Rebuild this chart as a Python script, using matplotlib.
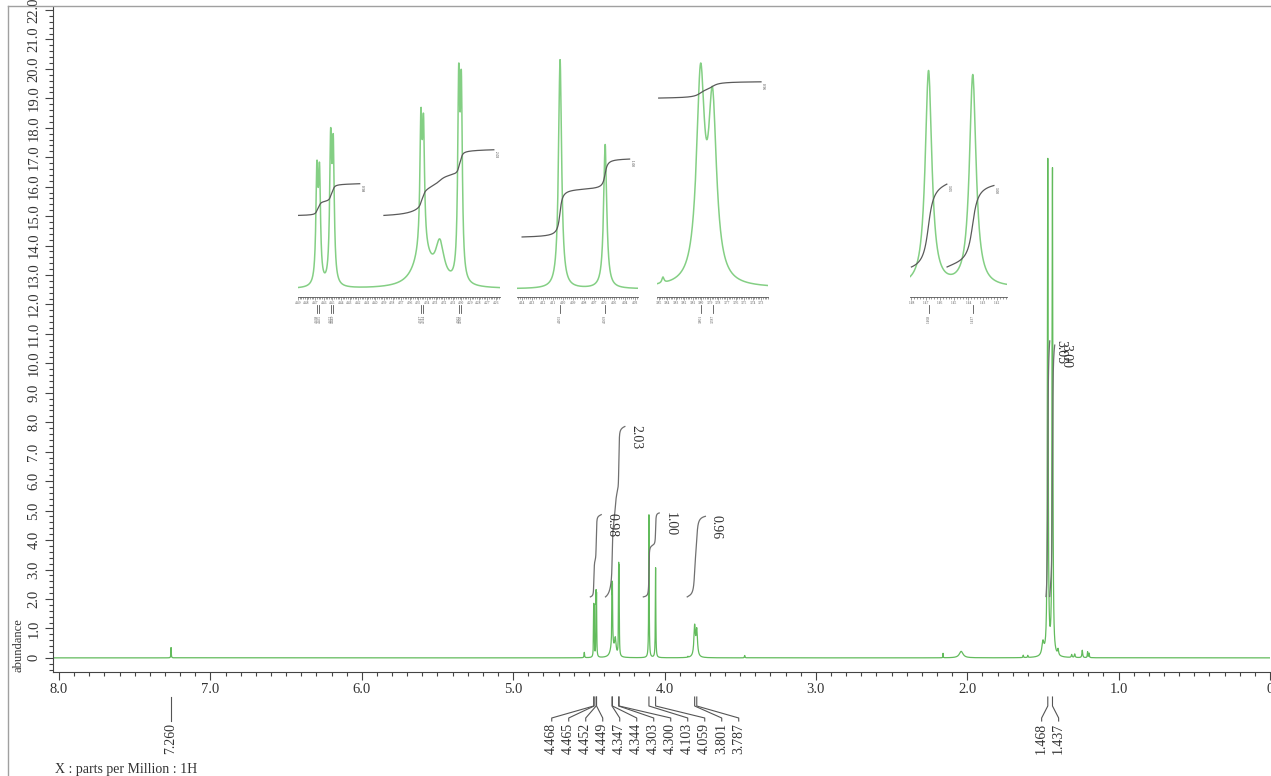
import numpy as np
import matplotlib.pyplot as plt
from matplotlib.lines import Line2D
from matplotlib.ticker import MultipleLocator, FuncFormatter

plt.rcParams['font.family'] = ['Liberation Serif', 'DejaVu Serif']

# peak list: shift (ppm), height (abundance), half width (ppm)
peak_ppm = [7.260, 4.530, 4.468, 4.465, 4.452, 4.449, 4.345, 4.347, 4.344, 4.325,
            4.303, 4.300, 4.103, 4.059, 3.845, 3.801, 3.787, 3.470, 2.160, 2.040,
            1.630, 1.600, 1.500, 1.468, 1.437, 1.400, 1.310, 1.290, 1.240, 1.205, 1.195]
peak_height = [0.35, 0.18, 1.55, 1.50, 1.95, 1.85, 0.50, 1.78, 1.65, 0.55,
               2.70, 2.60, 4.85, 3.05, 0.03, 1.02, 0.88, 0.08, 0.15, 0.22,
               0.08, 0.07, 0.45, 16.8, 16.5, 0.20, 0.10, 0.12, 0.25, 0.20, 0.15]
peak_hwhm = [0.0015, 0.002, 0.0014, 0.0014, 0.0014, 0.0014, 0.012, 0.0014, 0.0014, 0.006,
             0.0014, 0.0014, 0.0018, 0.0018, 0.0015, 0.0057, 0.0057, 0.002, 0.0012, 0.015,
             0.002, 0.002, 0.008, 0.0028, 0.0028, 0.004, 0.003, 0.003, 0.003, 0.002, 0.002]

# picked peaks (labels under the axis)
pick_ppm = [7.260, 4.468, 4.465, 4.452, 4.449, 4.347, 4.344, 4.303, 4.300,
            4.103, 4.059, 3.801, 3.787, 1.468, 1.437]
pick_group = [0, 1, 1, 1, 1, 1, 1, 1, 1, 1, 1, 1, 1, 2, 2]

# integrals
int_start = [4.490, 4.390, 4.140, 3.850, 1.480, 1.455]
int_end = [4.418, 4.262, 4.035, 3.730, 1.455, 1.422]
int_value = [0.98, 2.03, 1.00, 0.96, 3.05, 3.00]
int_inset = [0, 0, 1, 2, 3, 3]

# expansions shown above the spectrum
inset_left = [4.490, 4.145, 3.852, 1.481]
inset_right = [4.255, 4.027, 3.722, 1.413]
inset_ylo = [-0.115, -0.17, -0.046, -0.70]
inset_yhi = [3.405, 5.02, 1.204, 18.4]

W, H = 1271, 776
green = '#62bb5c'
lightgreen = '#84cf84'
ink = '#333333'

# spectrum from the peak list (lorentzian lines)
ppm = np.arange(-0.02, 8.04, 0.0002)
spec = np.zeros_like(ppm)
for p, h, w in zip(peak_ppm, peak_height, peak_hwhm):
    spec += h / (1 + ((ppm - p) / w) ** 2)


def fx(px):
    return px / W


def fy(py):
    return 1 - py / H


def fmt(v, pos):
    return '0' if abs(v) < 1e-9 else '%.1f' % v


def integral(i):
    m = (ppm <= int_start[i]) & (ppm >= int_end[i])
    xs = ppm[m][::-1]
    c = np.cumsum(spec[m][::-1])
    return xs, c / c[-1]


fig = plt.figure(figsize=(W / 100, H / 100), dpi=100)

# frame lines of the page
fig.add_artist(Line2D([fx(8), fx(8)], [0, fy(6)], transform=fig.transFigure, color='#a0a0a0', lw=1))
fig.add_artist(Line2D([fx(8), 1], [fy(6), fy(6)], transform=fig.transFigure, color='#a0a0a0', lw=1))

ax = fig.add_axes([fx(53), fy(672), fx(1270) - fx(53), fy(7) - fy(672)])
ax.patch.set_alpha(0)
ax.plot(ppm, spec, color=green, lw=0.9)
ax.set_xlim(8.04, 0)
ax.set_ylim(-0.48, 22.1)
for s in ['top', 'right']:
    ax.spines[s].set_visible(False)
for s in ['left', 'bottom']:
    ax.spines[s].set_color('#444444')
    ax.spines[s].set_linewidth(0.8)
ax.xaxis.set_major_locator(MultipleLocator(1))
ax.xaxis.set_minor_locator(MultipleLocator(0.1))
ax.yaxis.set_major_locator(MultipleLocator(1))
ax.yaxis.set_minor_locator(MultipleLocator(0.2))
ax.xaxis.set_major_formatter(FuncFormatter(fmt))
ax.yaxis.set_major_formatter(FuncFormatter(fmt))
ax.tick_params(which='both', direction='out', colors='#444444', labelcolor=ink, width=0.8)
ax.tick_params(which='major', length=6, labelsize=10.5)
ax.tick_params(which='minor', length=3)
ax.tick_params(axis='x', pad=2)
ax.tick_params(axis='y', labelrotation=90, pad=3)
for t in ax.get_yticklabels():
    t.set_va('center')

# integral curves on the main spectrum
for i in range(len(int_value)):
    xs, c = integral(i)
    ys = 2.07 + int_value[i] * 2.85 * c
    ax.plot(xs, ys, color='#707070', lw=0.9)
    ax.annotate('%.2f' % int_value[i], (xs[-1], ys[-1]), xytext=(3, 1), textcoords='offset points',
                rotation=-90, ha='left', va='top', fontsize=10, color=ink)

# peak labels under the axis
for g in sorted(set(pick_group)):
    pp = [p for p, k in zip(pick_ppm, pick_group) if k == g]
    px = [ax.transData.transform((p, 0))[0] for p in pp]
    mid = (min(px) + max(px)) / 2
    n = len(px)
    lx = [mid + (j - (n - 1) / 2) * 17 for j in range(n)]
    for p, x0, x1 in zip(pp, px, lx):
        fig.add_artist(Line2D([fx(x0), fx(x0), fx(x1), fx(x1)], [fy(697), fy(706), fy(718), fy(721)],
                              transform=fig.transFigure, color='#555555', lw=0.8))
        fig.text(fx(x1), fy(723), '%.3f' % p, rotation=90, ha='center', va='top', fontsize=10, color=ink)

# expansions
inset_px = [(298, 500), (517, 638), (657, 768), (910, 1007)]
base_frac = [0.333, 0.245, 0.812, 0.122]
step_frac = [0.132, 0.318, 0.069, 0.111]
for k in range(len(inset_left)):
    l, r = inset_px[k]
    iax = fig.add_axes([fx(l), fy(297), fx(r) - fx(l), fy(52) - fy(297)])
    iax.patch.set_alpha(0)
    m = (ppm <= inset_left[k] + 0.01) & (ppm >= inset_right[k] - 0.01)
    iax.plot(ppm[m], spec[m], color=lightgreen, lw=1.1)
    iax.set_xlim(inset_left[k], inset_right[k])
    iax.set_ylim(inset_ylo[k], inset_yhi[k])
    for s in ['top', 'right', 'left']:
        iax.spines[s].set_visible(False)
    iax.spines['bottom'].set_color('#555555')
    iax.spines['bottom'].set_linewidth(0.6)
    iax.set_yticks([])
    iax.xaxis.set_major_locator(MultipleLocator(0.01))
    iax.xaxis.set_minor_locator(MultipleLocator(0.002))
    iax.xaxis.set_major_formatter(FuncFormatter(lambda v, pos: '%.2f' % v))
    iax.tick_params(axis='x', which='both', direction='out', width=0.4, colors='#555555',
                    labelsize=2.6, pad=1)
    iax.tick_params(axis='x', which='major', length=2)
    iax.tick_params(axis='x', which='minor', length=1.2)

    for i in range(len(int_value)):
        if int_inset[i] != k:
            continue
        xs, c = integral(i)
        ys = base_frac[k] + int_value[i] * step_frac[k] * c
        iax.plot(xs, ys, color='#5a5a5a', lw=0.9, transform=iax.get_xaxis_transform())
        iax.text(xs[-1], ys[-1], ' %.2f' % int_value[i], rotation=-90, ha='left', va='top',
                 fontsize=2.6, color=ink, transform=iax.get_xaxis_transform())

    pp = [p for p in pick_ppm if inset_right[k] < p < inset_left[k]]
    for p in pp:
        x0 = iax.transData.transform((p, 0))[0]
        fig.add_artist(Line2D([fx(x0), fx(x0)], [fy(305), fy(313)], transform=fig.transFigure,
                              color='#555555', lw=0.6))
        fig.text(fx(x0), fy(315), '%.3f' % p, rotation=90, ha='center', va='top', fontsize=2.6,
                 color='#555555')

fig.text(fx(18), fy(645), 'abundance', rotation=90, ha='center', va='center', fontsize=9, color=ink)
fig.text(fx(55), fy(769), 'X : parts per Million : 1H', ha='left', va='center', fontsize=10, color=ink)

fig.savefig('out.png', dpi=100)
